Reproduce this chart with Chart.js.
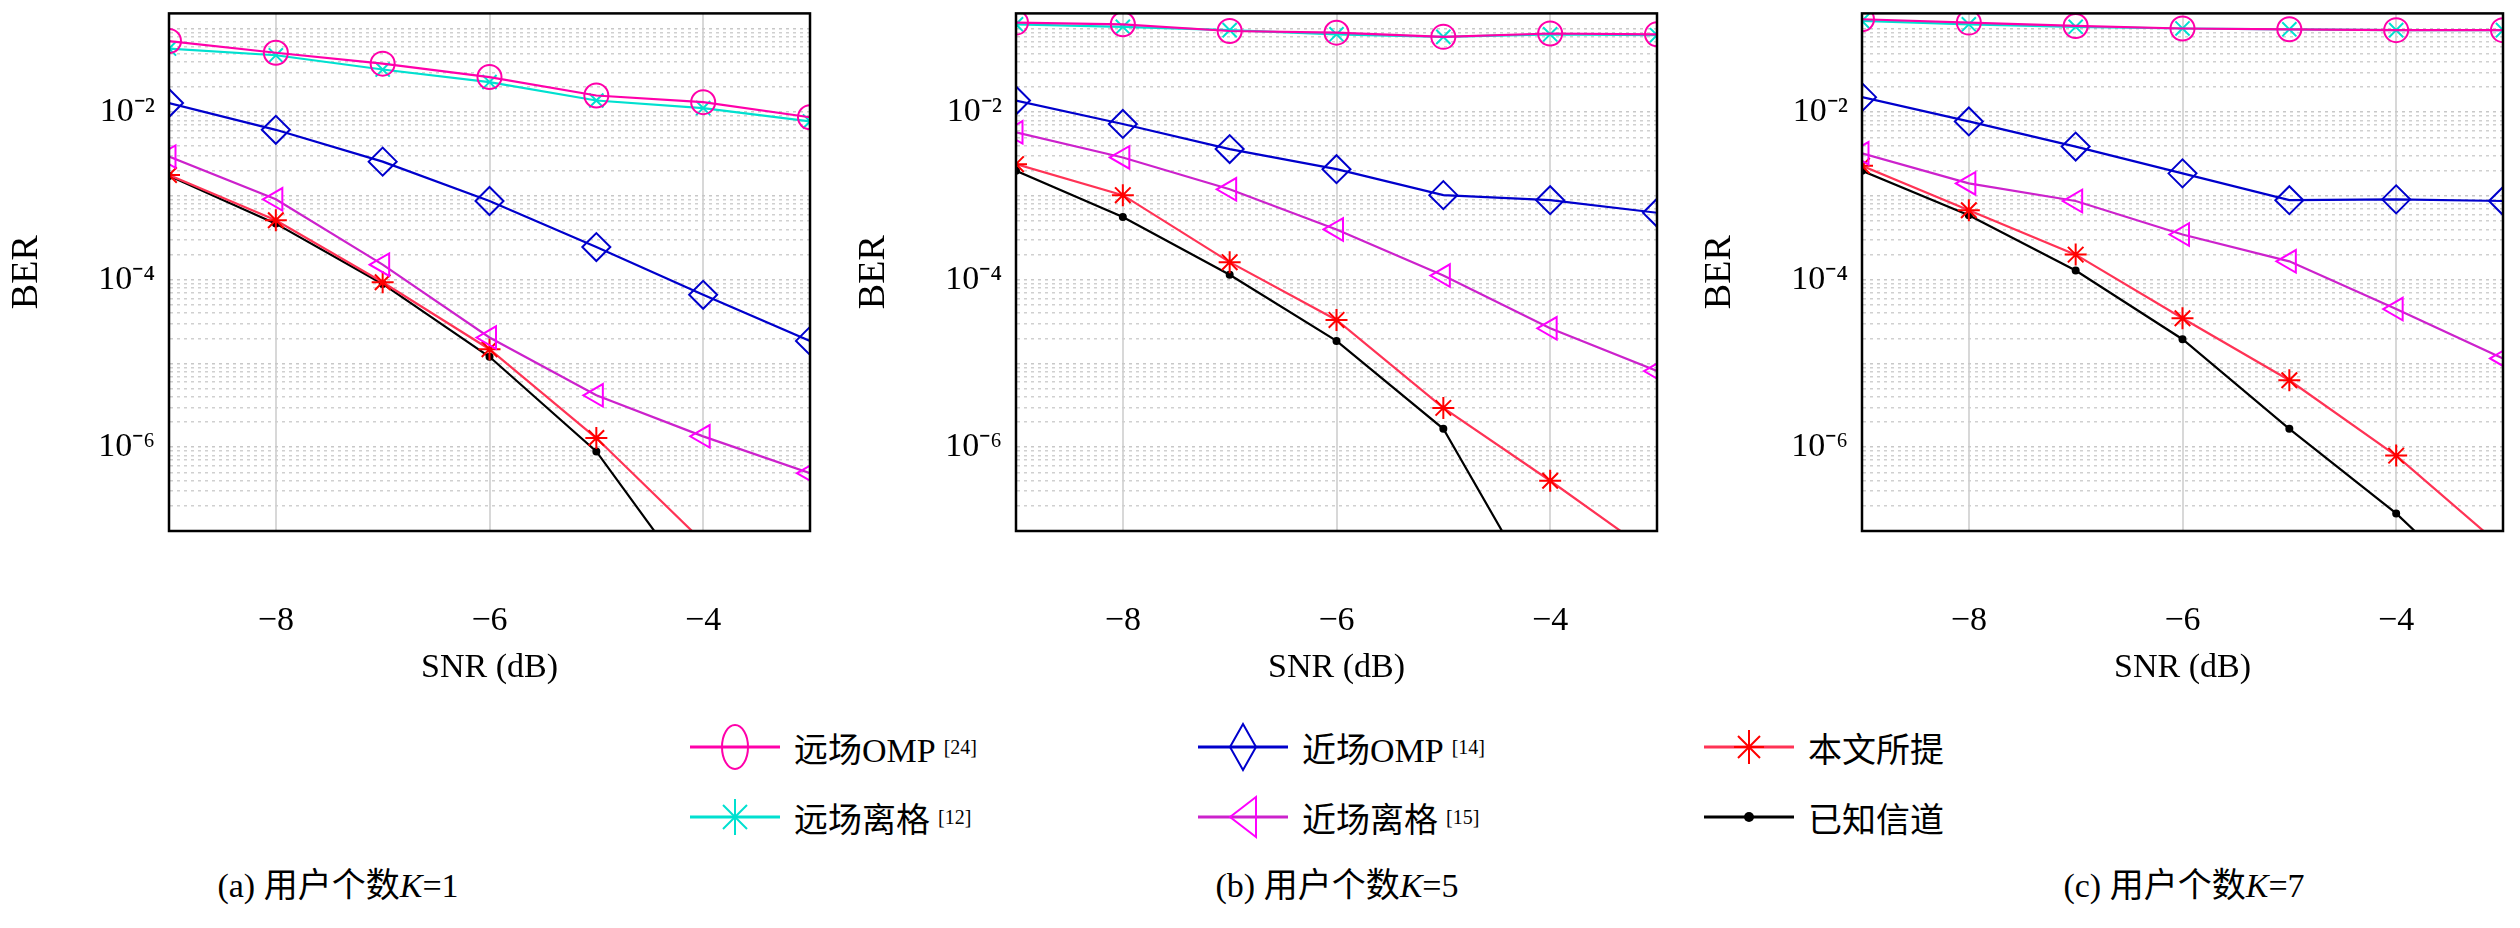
<!DOCTYPE html>
<html>
<head>
<meta charset="utf-8">
<script src="https://cdn.jsdelivr.net/npm/chart.js@4"></script>
<style>
  body { margin: 0; background: #fff; width: 2520px; height: 928px; position: relative; overflow: hidden;
         font-family: "Liberation Serif", "Noto Sans CJK SC", serif; }
  .box { position: absolute; top: -21px; width: 840px; height: 721px; }
  .leg { position: absolute; font-size: 34px; display: flex; align-items: center; white-space: nowrap; }
  .leg svg { margin-right: 14px; }
  .leg sup { font-size: 20px; margin-left: 8px; }
  .cap { position: absolute; top: 858px; font-size: 34px; transform: translateX(-50%); white-space: nowrap; }
</style>
</head>
<body>
<div class="box" style="left:0px"><canvas id="c1"></canvas></div>
<div class="box" style="left:847px"><canvas id="c2"></canvas></div>
<div class="box" style="left:1693px"><canvas id="c3"></canvas></div>

<div class="leg" style="left:690px;top:722px"><svg width="90" height="50"><line x1="0" y1="25" x2="90" y2="25" stroke="#ff00aa" stroke-width="3"/><ellipse cx="45" cy="25" rx="13" ry="22" fill="none" stroke="#ff00aa" stroke-width="2"/></svg>远场OMP<sup>[24]</sup></div>
<div class="leg" style="left:690px;top:792px"><svg width="90" height="50"><line x1="0" y1="25" x2="90" y2="25" stroke="#00e0d0" stroke-width="3"/><path d="M45 7L45 43M33 13L57 37M57 13L33 37" stroke="#00e0d0" stroke-width="2"/></svg>远场离格<sup>[12]</sup></div>
<div class="leg" style="left:1198px;top:722px"><svg width="90" height="50"><line x1="0" y1="25" x2="90" y2="25" stroke="#0000cc" stroke-width="3"/><path d="M45 2L58 25L45 48L32 25Z" fill="none" stroke="#0000cc" stroke-width="2"/></svg>近场OMP<sup>[14]</sup></div>
<div class="leg" style="left:1198px;top:792px"><svg width="90" height="50"><line x1="0" y1="25" x2="90" y2="25" stroke="#cc22cc" stroke-width="3"/><path d="M32 25L58 5L58 45Z" fill="none" stroke="#ff00ff" stroke-width="2"/></svg>近场离格<sup>[15]</sup></div>
<div class="leg" style="left:1704px;top:722px"><svg width="90" height="50"><line x1="0" y1="25" x2="90" y2="25" stroke="#ff3355" stroke-width="3"/><path d="M45 8L45 42M30 25L60 25M34 14L56 36M56 14L34 36" stroke="#ff0000" stroke-width="2"/></svg>本文所提</div>
<div class="leg" style="left:1704px;top:792px"><svg width="90" height="50"><line x1="0" y1="25" x2="90" y2="25" stroke="#000" stroke-width="3"/><circle cx="45" cy="25" r="5" fill="#000"/></svg>已知信道</div>

<div class="cap" style="left:338px">(a) 用户个数<i>K</i>=1</div>
<div class="cap" style="left:1337px">(b) 用户个数<i>K</i>=5</div>
<div class="cap" style="left:2184px">(c) 用户个数<i>K</i>=7</div>

<script>
// SNR 横轴
var snr = [-9, -8, -7, -6, -5, -4, -3];
var yTickPowers = [-2, -4, -6];

// BER 数据 (log10 值, 从图中估读)
// K=1
var farOmp1 = [-1.15, -1.29, -1.42, -1.58, -1.80, -1.88, -2.06];
var farOff1 = [-1.24, -1.32, -1.49, -1.64, -1.86, -1.95, -2.11];
var nearOmp1 = [-1.89, -2.21, -2.59, -3.06, -3.61, -4.18, -4.73];
var nearOff1 = [-2.53, -3.04, -3.82, -4.69, -5.38, -5.87, -6.31];
var prop1 = [-2.75, -3.29, -4.03, -4.83, -5.89, -7.13, -8.4];
var known1 = [-2.76, -3.33, -4.05, -4.92, -6.05, -7.8, -9.5];
// K=5
var farOmp5 = [-0.93, -0.95, -1.03, -1.05, -1.10, -1.06, -1.07];
var farOff5 = [-0.95, -0.98, -1.02, -1.07, -1.10, -1.07, -1.08];
var nearOmp5 = [-1.86, -2.14, -2.44, -2.68, -2.99, -3.05, -3.20];
var nearOff5 = [-2.24, -2.54, -2.92, -3.40, -3.95, -4.58, -5.09];
var prop5 = [-2.62, -2.99, -3.79, -4.48, -5.53, -6.40, -7.31];
var known5 = [-2.70, -3.25, -3.94, -4.73, -5.78, -8.0, -9.7];
// K=7
var farOmp7 = [-0.89, -0.93, -0.97, -1.00, -1.01, -1.02, -1.02];
var farOff7 = [-0.91, -0.95, -0.98, -1.00, -1.01, -1.02, -1.02];
var nearOmp7 = [-1.82, -2.11, -2.41, -2.73, -3.05, -3.04, -3.06];
var nearOff7 = [-2.49, -2.85, -3.06, -3.46, -3.78, -4.35, -4.94];
var prop7 = [-2.64, -3.17, -3.70, -4.46, -5.20, -6.10, -7.2];
var known7 = [-2.70, -3.23, -3.89, -4.71, -5.78, -6.79, -8.0];

function pts(arr) {
    return arr.map(function(v, i) { return { x: snr[i], y: Math.pow(10, v) }; });
}

function ds(label, arr, color, marker, mcolor, size, rot) {
    return {
        label: label, data: pts(arr), borderColor: color, borderWidth: 2.2,
        pointStyle: marker, pointRadius: size, pointBorderColor: mcolor || color,
        pointBackgroundColor: marker === 'circle' && size < 6 ? '#000' : 'rgba(0,0,0,0)',
        pointBorderWidth: 2, pointRotation: rot || 0, tension: 0
    };
}

// 边框
var frame = {
    id: 'frame',
    afterDraw: function(chart) {
        var a = chart.chartArea, c = chart.ctx;
        c.save();
        c.strokeStyle = '#000';
        c.lineWidth = 2.5;
        c.strokeRect(a.left, a.top, a.right - a.left, a.bottom - a.top);
        c.restore();
    }
};

var sup = { '-': '⁻', '2': '²', '4': '⁴', '6': '⁶' };

function makeChart(id, f1, f2, n1, n2, p, k) {
    new Chart(document.getElementById(id), {
        type: 'line',
        data: {
            datasets: [
                ds('远场OMP', f1, '#ff00aa', 'circle', '#ff00aa', 12),
                ds('远场离格', f2, '#00e0d0', 'crossRot', '#00e0d0', 10),
                ds('近场OMP', n1, '#0000cc', 'rectRot', '#0000cc', 14),
                ds('近场离格', n2, '#cc22cc', 'triangle', '#ff00ff', 13, -90),
                ds('本文所提', p, '#ff3355', 'star', '#ff0000', 11),
                ds('已知信道', k, '#000000', 'circle', '#000000', 3)
            ]
        },
        options: {
            responsive: false, animation: false,
            layout: { padding: { top: 8, right: 20 } },
            plugins: { legend: { display: false }, tooltip: { enabled: false } },
            scales: {
                x: {
                    type: 'linear', min: -9, max: -3,
                    afterBuildTicks: function(s) { s.ticks = [-8, -6, -4].map(function(v) { return { value: v }; }); },
                    afterFit: function(s) { s.height = 169; },
                    ticks: { font: { family: 'Liberation Serif', size: 34 }, color: '#000', padding: 70,
                        callback: function(v) { return '−' + Math.abs(v); } },
                    grid: { color: '#d8d8d8', lineWidth: 2, drawTicks: false },
                    title: { display: true, text: 'SNR (dB)', font: { family: 'Liberation Serif', size: 34 }, color: '#000', padding: { top: 0, bottom: 12 } }
                },
                y: {
                    type: 'logarithmic', min: 1e-7, max: Math.pow(10, -0.82),
                    afterBuildTicks: function(s) {
                        var t = [];
                        for (var e = -7; e <= -1; e++) for (var m = 1; m <= 9; m++) {
                            var v = m * Math.pow(10, e);
                            if (v >= 1e-7 && v <= s.max) t.push({ value: v });
                        }
                        s.ticks = t;
                    },
                    afterFit: function(s) { s.width = 169; },
                    ticks: { font: { family: 'Liberation Serif', size: 34 }, color: '#000', padding: 14, autoSkip: false,
                        callback: function(v) {
                            var e = Math.round(Math.log10(v));
                            if (Math.abs(v / Math.pow(10, e) - 1) > 1e-6 || yTickPowers.indexOf(e) < 0) return '';
                            return '10' + String(e).split('').map(function(ch) { return sup[ch]; }).join('');
                        } },
                    grid: { drawTicks: false, lineWidth: 1.5,
                        color: function(ctx) {
                            var v = ctx.tick.value, e = Math.round(Math.log10(v));
                            return Math.abs(v / Math.pow(10, e) - 1) < 1e-6 ? '#c8c8c8' : '#d0d0d0';
                        } },
                    border: { dash: [3, 4] },
                    title: { display: true, text: 'BER', font: { family: 'Liberation Serif', size: 38 }, color: '#000', padding: { bottom: 0 } }
                }
            }
        },
        plugins: [frame]
    });
}

['c1', 'c2', 'c3'].forEach(function(id) {
    var cv = document.getElementById(id);
    cv.width = 830; cv.height = 721;
    cv.style.width = '830px'; cv.style.height = '721px';
});
makeChart('c1', farOmp1, farOff1, nearOmp1, nearOff1, prop1, known1);
makeChart('c2', farOmp5, farOff5, nearOmp5, nearOff5, prop5, known5);
makeChart('c3', farOmp7, farOff7, nearOmp7, nearOff7, prop7, known7);
</script>
</body>
</html>
